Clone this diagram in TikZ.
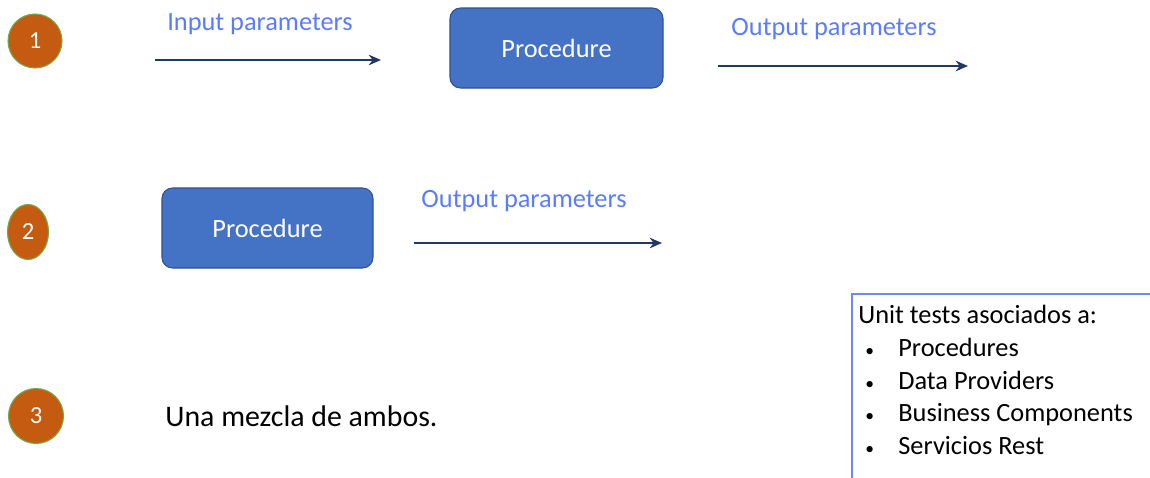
\documentclass[tikz,border=0pt]{standalone}
\usepackage{fontspec}
\setmainfont{Carlito}
\usepackage{xcolor}
\usetikzlibrary{arrows.meta,shapes.geometric}
\definecolor{PRStep}{HTML}{C55A11}
\definecolor{PRStepLine}{HTML}{70AD47}
\definecolor{PRBox}{HTML}{4472C4}
\definecolor{PRBoxLine}{HTML}{2F528F}
\definecolor{PRLabel}{HTML}{5B7BFF}
\definecolor{PRArrow}{HTML}{203864}
\definecolor{PRNote}{HTML}{7088FF}

\begin{document}
\begin{tikzpicture}[x=0.02cm,y=-0.02cm,
  stepmark/.style={circle,fill=PRStep,draw=PRStepLine,line width=0.6pt,text=white,font=\fontsize{14}{16}\selectfont,inner sep=0pt},
  procbox/.style={rounded corners=6pt,fill=PRBox,draw=PRBoxLine,line width=0.6pt,text=white,font=\fontsize{15}{18}\selectfont,minimum width=211*0.02cm,minimum height=80*0.02cm},
  paramlabel/.style={text=PRLabel,font=\fontsize{15}{18}\selectfont,inner sep=0pt},
  paramarrow/.style={PRArrow,line width=1.2pt,-{Stealth[length=7pt,width=6pt]}},
  noteline/.style={anchor=west,inner sep=0pt,font=\fontsize{15}{18}\selectfont,text height=10pt,text depth=3pt}]
\path[use as bounding box] (0,0) rectangle (1150,477);
\node[stepmark,minimum size=54*0.02cm] (one) at (35,41) {1};
\node[paramlabel] (inlabel) at (260,24) {Input parameters};
\coordinate (instart) at (155,60);
\coordinate (inend) at (381,60);
\draw[paramarrow] (instart) -- (inend);
\node[procbox,minimum width=213*0.02cm] (procone) at (556.5,48) {Procedure};
\node[paramlabel] (outlabelone) at (834,29) {Output parameters};
\coordinate (outstartone) at (718,66);
\coordinate (outendone) at (968,66);
\draw[paramarrow] (outstartone) -- (outendone);
\node[stepmark,ellipse,minimum width=41*0.02cm,minimum height=55*0.02cm] (two) at (28,232) {2};
\node[procbox] (proctwo) at (267.5,228) {Procedure};
\node[paramlabel] (outlabeltwo) at (524,201) {Output parameters};
\coordinate (outstarttwo) at (414,243);
\coordinate (outendtwo) at (662,243);
\draw[paramarrow] (outstarttwo) -- (outendtwo);
\node[stepmark,minimum size=55*0.02cm] (three) at (36,416) {3};
\node[anchor=west,inner sep=0pt,font=\fontsize{17}{20}\selectfont] (mix) at (165,416) {Una mezcla de ambos.};
\begin{scope}
\clip (0,0) rectangle (1150,477);
\draw[PRNote,line width=1.5pt] (852,490) -- (852,294) -- (1160,294);
\end{scope}
\node[noteline] (notehead) at (858,317) {Unit tests asociados a:};
\foreach \entry [count=\i] in {Procedures,Data Providers,Business Components,Servicios Rest} {
  \node[noteline,font=\fontsize{10}{12}\selectfont] (bullet\i) at (865,{318+32.5*\i}) {\textbullet};
  \node[noteline] (item\i) at (898,{318+32.5*\i}) {\entry};
}
\end{tikzpicture}
\end{document}
